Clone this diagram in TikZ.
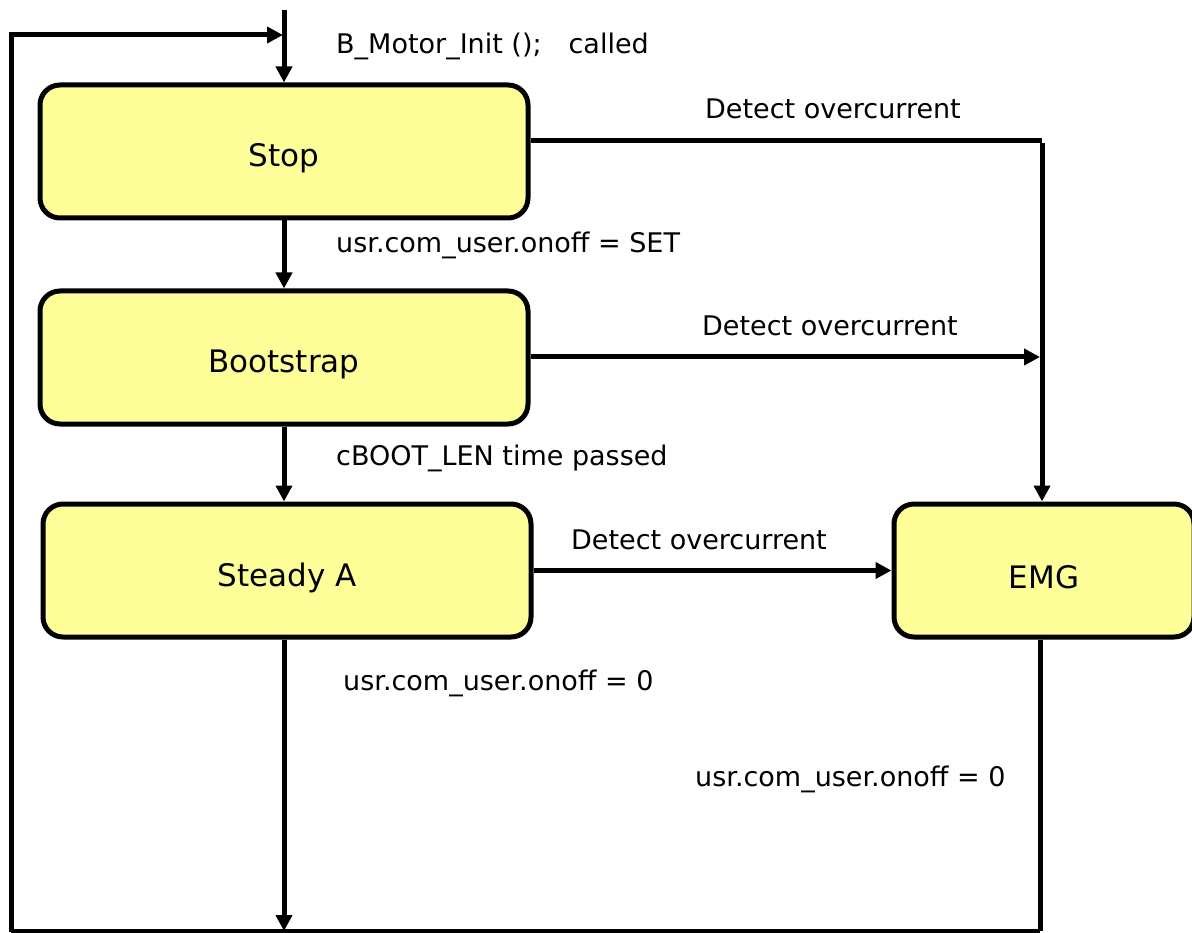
\documentclass[tikz,border=0pt]{standalone}
\usepackage{fontspec}
\setmainfont{DejaVu Sans}
\usetikzlibrary{arrows.meta}
\definecolor{boxyellow}{RGB}{255,255,153}
\tikzset{
  statebox/.style={draw=black, line width=5pt, fill=boxyellow, rounded corners=20pt, minimum width=#1, minimum height=133pt, inner sep=0pt},
  boxtext/.style={font=\fontsize{31}{36}\selectfont, anchor=base, yshift=-7pt, inner sep=0pt},
  conn/.style={line width=5pt},
  arr/.style={line width=5pt, -{Triangle[length=16pt,width=16pt]}},
  lbl/.style={font=\fontsize{27}{32}\selectfont, inner sep=0pt},
}
\begin{document}
\begin{tikzpicture}[x=1pt,y=-1pt]
\useasboundingbox (0,0) rectangle (1192,933);
\fill[white] (0,0) rectangle (1192,933);
% states
\node[statebox=488pt, label={[boxtext]center:Stop}] (stop) at (284,151.5) {};
\node[statebox=488pt, label={[boxtext]center:Bootstrap}] (boot) at (284,357.5) {};
\node[statebox=488pt, label={[boxtext]center:Steady A}] (steady) at (287,570.5) {};
\node[statebox=300pt, label={[boxtext]center:EMG}] (emg) at (1044,570.5) {};
% coordinates
\coordinate (topin) at (284,10);
\coordinate (loopTL) at (11,35);
\coordinate (loopTR) at (283,35);
\coordinate (loopBL) at (11,931);
\coordinate (steadyBot) at (284,931);
\coordinate (emgBot) at (1040,931);
\coordinate (stopCorner) at (1042,141);
\coordinate (bootEnd) at (1040,357);
% connectors
\draw[arr] (topin) -- (stop.north);
\draw[arr] ([yshift=-1pt]loopBL) -- (loopTL) -- (loopTR);
\draw[arr] (stop.south) -- (boot.north);
\draw[arr] (boot.south) -- (steady.north -| boot.south);
\draw[arr] (steady.south -| boot.south) -- (steadyBot);
\draw[conn] (loopBL) -- (emgBot);
\draw[conn] (emg.south -| emgBot) -- (emgBot);
\draw[conn] (stop.east |- stopCorner) -- (stopCorner);
\draw[arr] ([yshift=-2pt]stopCorner) -- (emg.north -| stopCorner);
\draw[arr] (boot.east |- bootEnd) -- (bootEnd);
\draw[arr] (steady.east) -- (emg.west);
% labels
\node[lbl, anchor=west] (l1) at (336,46) {B\_Motor\_Init ();\quad called};
\node[lbl] (l2) at (833,109) {Detect overcurrent};
\node[lbl, anchor=west] (l3) at (336,245) {usr.com\_user.onoff = SET};
\node[lbl] (l4) at (830,326) {Detect overcurrent};
\node[lbl, anchor=west] (l5) at (336,458) {cBOOT\_LEN time passed};
\node[lbl] (l6) at (699,540) {Detect overcurrent};
\node[lbl, anchor=west] (l7) at (343,683) {usr.com\_user.onoff = 0};
\node[lbl, anchor=west] (l8) at (695,779) {usr.com\_user.onoff = 0};
\end{tikzpicture}
\end{document}
